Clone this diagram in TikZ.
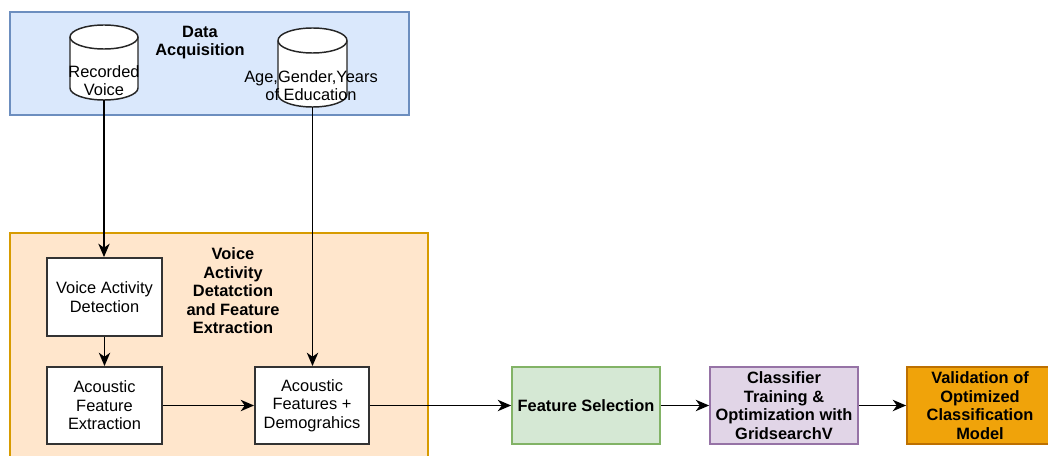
\documentclass[tikz,border=0pt]{standalone}
\usepackage{fontspec}
\setmainfont{Liberation Sans}
\usetikzlibrary{arrows.meta}

\definecolor{acqfill}{HTML}{DAE8FC}
\definecolor{acqline}{HTML}{6C8EBF}
\definecolor{vadfill}{HTML}{FFE6CC}
\definecolor{vadline}{HTML}{D79B00}
\definecolor{selfill}{HTML}{D5E8D4}
\definecolor{selline}{HTML}{82B366}
\definecolor{clsfill}{HTML}{E1D5E7}
\definecolor{clsline}{HTML}{9673A6}
\definecolor{valfill}{HTML}{F0A30A}
\definecolor{valline}{HTML}{BD7000}

\tikzset{
  every node/.style={font=\fontsize{12.3}{13.9}\selectfont, align=center, inner sep=0pt},
  group/.style={draw, line width=1.3pt},
  stepbox/.style={draw=black!80, fill=white, line width=1.4pt, minimum height=57.75pt},
  boldbox/.style={line width=1.3pt, minimum height=57.75pt, minimum width=111pt, font=\fontsize{12.3}{13.9}\selectfont\bfseries},
  db/.style={draw=black!85, fill=white, line width=1.1pt},
  flow/.style={line width=1.4pt, -{Stealth[length=10pt,width=8.5pt,inset=3pt]}},
}

\begin{document}
\begin{tikzpicture}[x=0.75pt,y=-0.75pt]
    \useasboundingbox (0,0) rectangle (1048,456);
    \node[group, fill=acqfill, draw=acqline, minimum width=299.25pt, minimum height=77.25pt] (acq) at (209.5,63.5) {};
    \node[group, fill=vadfill, draw=vadline, minimum width=313.5pt, minimum height=168pt] (vadfe) at (219,345) {};

    \node[font=\fontsize{12.3}{13.9}\selectfont\bfseries] (acqtitle) at (200,42.5) {Data\\Acquisition};
    \draw[db] (70,37) -- (70,88) arc[start angle=180, end angle=0, x radius=34, y radius=12]
        -- (138,37) arc[start angle=0, end angle=-180, x radius=34, y radius=12] -- cycle;
    \draw[db, fill=none] (70,37) arc[start angle=180, end angle=0, x radius=34, y radius=12];
    \coordinate (rec) at (104,100);
    \node (rectext) at (104,80.5) {Recorded\\Voice};
    \draw[db] (278,40.5) -- (278,94.5) arc[start angle=180, end angle=0, x radius=34.5, y radius=12.5]
        -- (347,40.5) arc[start angle=0, end angle=-180, x radius=34.5, y radius=12.5] -- cycle;
    \draw[db, fill=none] (278,40.5) arc[start angle=180, end angle=0, x radius=34.5, y radius=12.5];
    \coordinate (demo) at (312.5,107);
    \node (demotext) at (311,85.5) {Age,Gender,Years\\of Education};

    \node[font=\fontsize{12.3}{13.9}\selectfont\bfseries] (vadtitle) at (233,291) {Voice\\Activity\\Detatction\\and Feature\\Extraction};
    \node[stepbox, minimum width=86.25pt, minimum height=58.5pt] (vad) at (104.5,297) {Voice Activity\\Detection};
    \node[stepbox, minimum width=86.25pt] (afe) at (104.5,405.5) {Acoustic\\Feature\\Extraction};
    \node[stepbox, minimum width=85.5pt] (afd) at (312,405.5) {Acoustic\\Features +\\Demograhics};

    \node[boldbox, fill=selfill, draw=selline] (fs) at (586,405.5) {Feature Selection};
    \node[boldbox, fill=clsfill, draw=clsline] (clf) at (784,405.5) {Classifier\\Training \&\\Optimization with\\GridsearchV};
    \node[boldbox, fill=valfill, draw=valline, minimum width=109.5pt] (val) at (980,405.5) {Validation of\\Optimized\\Classification\\Model};

    \draw[flow] (rec) -- (rec |- vad.north);
    \draw[flow] (demo) -- (demo |- afd.north);
    \draw[flow] (vad) -- (afe);
    \draw[flow] (afe) -- (afd);
    \draw[flow] (afd) -- (fs);
    \draw[flow] (fs) -- (clf);
    \draw[flow] (clf) -- (val);
\end{tikzpicture}
\end{document}
